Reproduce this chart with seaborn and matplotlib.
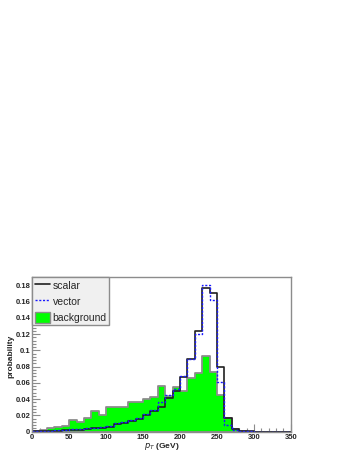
import numpy as np
import pandas as pd
import matplotlib
matplotlib.use("Agg")
import matplotlib.pyplot as plt
import seaborn as sns
from matplotlib.lines import Line2D
from matplotlib.patches import Patch
from matplotlib.ticker import MultipleLocator

# pT bins (GeV), 10 GeV wide from 0 to 350
pt_edges = list(range(0, 351, 10))
pt_centers = [e + 5 for e in pt_edges[:-1]]

# normalised pT distributions
scalar_prob = [0.0005, 0.0005, 0.001, 0.001, 0.0015, 0.002, 0.002, 0.003, 0.004, 0.005,
               0.006, 0.009, 0.011, 0.013, 0.016, 0.021, 0.025, 0.031, 0.042, 0.050,
               0.067, 0.089, 0.124, 0.177, 0.171, 0.080, 0.017, 0.003, 0.001, 0.0005,
               0, 0, 0, 0, 0]
vector_prob = [0.0005, 0.001, 0.001, 0.002, 0.002, 0.003, 0.003, 0.004, 0.005, 0.006,
               0.007, 0.011, 0.012, 0.015, 0.017, 0.022, 0.027, 0.036, 0.045, 0.053,
               0.069, 0.089, 0.120, 0.181, 0.162, 0.061, 0.008, 0.002, 0.001, 0.0005,
               0, 0, 0, 0, 0]
bg_prob = [0.001, 0.002, 0.004, 0.006, 0.007, 0.015, 0.012, 0.017, 0.025, 0.021,
           0.031, 0.030, 0.031, 0.037, 0.036, 0.040, 0.043, 0.056, 0.044, 0.055,
           0.050, 0.066, 0.072, 0.093, 0.073, 0.045, 0.017, 0.003, 0.001, 0,
           0, 0, 0, 0, 0]

df = pd.DataFrame({"pt": pt_centers, "scalar": scalar_prob,
                   "vector": vector_prob, "background": bg_prob})

sns.set_style("white")
plt.rcParams['font.family'] = ['Liberation Sans', 'DejaVu Sans']

fig = plt.figure(figsize=(3.49, 4.51), dpi=100)
ax = fig.add_axes([0.0926, 0.0428, 0.7407, 0.3424])

# background (filled green)
sns.histplot(data=df, x="pt", weights="background", bins=pt_edges, element="step", fill=True,
             color="#00ff00", alpha=1, edgecolor="#8c8c8c", linewidth=1.3, ax=ax)
# scalar (solid black)
sns.histplot(data=df, x="pt", weights="scalar", bins=pt_edges, element="step", fill=False,
             color="#202020", linewidth=1.2, ax=ax)
# vector (dotted blue)
sns.histplot(data=df, x="pt", weights="vector", bins=pt_edges, element="step", fill=False,
             color="#1a1aff", linewidth=1.0, linestyle=(0, (1.5, 1.2)), ax=ax)

ax.set_xlim(0, 350)
ax.set_ylim(0, 0.19)
ax.set_xlabel("")

# ROOT style ticks
ax.xaxis.set_minor_locator(MultipleLocator(10))
ax.yaxis.set_minor_locator(MultipleLocator(0.004))
ax.tick_params(which="both", direction="in", color="#8c8c8c", width=0.8,
               labelsize=5.5, pad=1.5, top=False, right=False, left=True, bottom=True)
ax.tick_params(which="major", length=6)
ax.tick_params(which="minor", length=3)
ax.set_yticks(np.arange(0, 0.181, 0.02))
ax.set_yticklabels(["0", "0.02", "0.04", "0.06", "0.08", "0.1", "0.12", "0.14", "0.16", "0.18"],
                   fontweight="bold")
ax.set_xticks(range(0, 351, 50))
ax.set_xticklabels([str(v) for v in range(0, 351, 50)], fontweight="bold")
for s in ax.spines.values():
    s.set_color("#8c8c8c")
    s.set_linewidth(1.0)

ax.set_ylabel("probability", fontsize=6, fontweight="bold")
ax.yaxis.set_label_coords(-0.068, 0.49)
fig.text(162 / 349, 1 - 446 / 451, r"$p_{T}$ (GeV)", fontsize=6, fontweight="bold",
         ha="center", va="center")

handles = [Line2D([], [], color="#202020", linewidth=1.2),
           Line2D([], [], color="#1a1aff", linewidth=1.0, linestyle=(0, (1.5, 1.2))),
           Patch(facecolor="#00ff00", edgecolor="#8c8c8c", linewidth=1.0)]
leg = ax.legend(handles, ["scalar", "vector", "background"], loc="upper left",
                bbox_to_anchor=(0, 1), borderaxespad=0, fontsize=7.5, fancybox=False,
                framealpha=1, facecolor="#f0f0f0", edgecolor="#8c8c8c",
                handlelength=1.4, handleheight=1.2, handletextpad=0.3,
                labelspacing=0.5, borderpad=0.25)
leg.get_frame().set_linewidth(1.0)

fig.savefig("out.png", dpi=100)
